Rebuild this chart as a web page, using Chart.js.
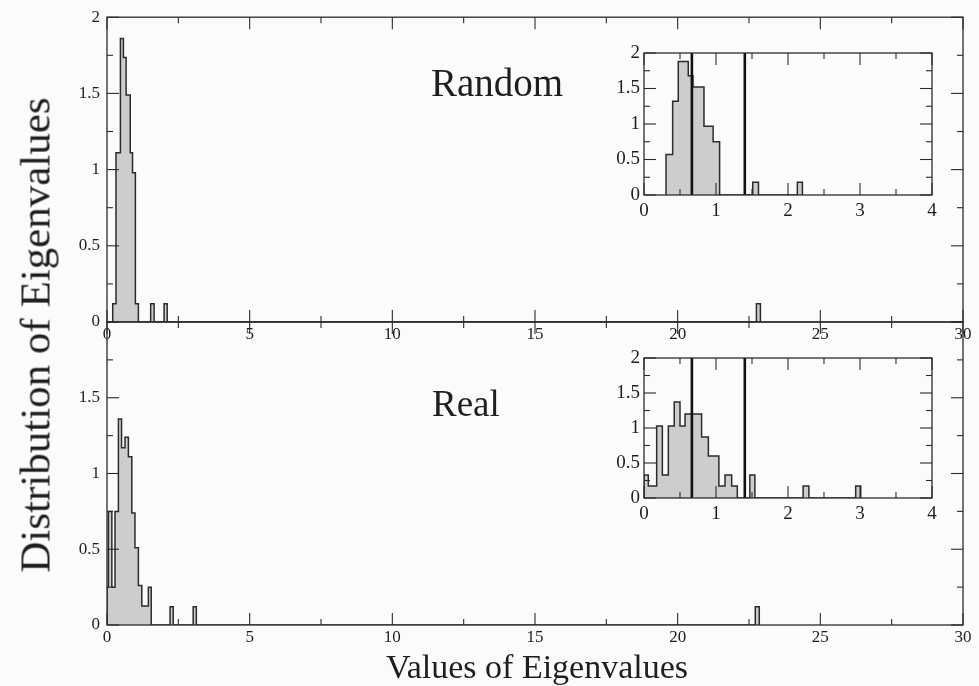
<!DOCTYPE html>
<html>
<head>
<meta charset="utf-8">
<script src="https://cdn.jsdelivr.net/npm/chart.js@4.4.1/dist/chart.umd.min.js"></script>
<style>
  html, body { margin: 0; padding: 0; background: #fbfbfb; }
  #wrap { position: relative; width: 979px; height: 686px; overflow: hidden;
          font-family: 'Liberation Serif', 'Times New Roman', serif; color: #1e1e1e; }
  #wrap canvas { position: absolute; left: 0; top: 0; }
  .lbl { position: absolute; white-space: nowrap; line-height: 1; }
</style>
</head>
<body>
<div id="wrap">
  <canvas id="mainTop" width="979" height="686"></canvas>
  <canvas id="mainBottom" width="979" height="686"></canvas>
  <canvas id="zoomTop" width="979" height="686"></canvas>
  <canvas id="zoomBottom" width="979" height="686"></canvas>
  <div class="lbl" id="tagRandom" style="left:431px;top:63px;font-size:39px;">Random</div>
  <div class="lbl" id="tagReal" style="left:432px;top:385px;font-size:37px;">Real</div>
  <div class="lbl" id="xTitle" style="left:537px;top:667px;font-size:34px;transform:translate(-50%,-50%);">Values of Eigenvalues</div>
  <div class="lbl" id="yTitle" style="left:35px;top:335px;font-size:43px;transform:translate(-50%,-50%) rotate(-90deg);">Distribution of Eigenvalues</div>
</div>
<script>
// Eigenvalue histograms: left bin edge and density of each bin (0 = empty gap up to the next edge)
const randomEdges   = [0.20, 0.315, 0.47, 0.575, 0.67, 0.815, 0.895, 0.995, 1.10, 1.53, 1.65, 2.00, 2.11, 22.76, 22.90];
const randomDensity = [0.12, 1.11, 1.86, 1.735, 1.49, 1.11, 0.98, 0.12, 0, 0.12, 0, 0.12, 0, 0.12, 0];

const randomZoomEdges   = [0.306, 0.398, 0.476, 0.615, 0.68, 0.833, 0.96, 1.05, 1.51, 1.59, 2.13, 2.20];
const randomZoomDensity = [0.57, 1.32, 1.88, 1.68, 1.52, 0.97, 0.75, 0, 0.18, 0, 0.18, 0];

const realEdges   = [0.00, 0.05, 0.17, 0.28, 0.40, 0.51, 0.63, 0.75, 0.87, 0.98, 1.10, 1.22, 1.45, 1.55, 2.21, 2.32, 3.02, 3.13, 22.72, 22.86];
const realDensity = [0.25, 0.75, 0.25, 0.75, 1.36, 1.17, 1.24, 1.11, 0.74, 0.51, 0.26, 0.125, 0.25, 0, 0.12, 0, 0.12, 0, 0.12, 0];

const realZoomEdges   = [0.00, 0.06, 0.176, 0.255, 0.338, 0.42, 0.50, 0.57, 0.80, 0.894, 1.04, 1.125, 1.218, 1.296, 1.47, 1.54, 2.21, 2.29, 2.94, 3.01];
const realZoomDensity = [0.33, 0.17, 1.03, 0.33, 1.03, 1.37, 1.03, 1.20, 0.87, 0.60, 0.17, 0.33, 0.17, 0, 0.33, 0, 0.17, 0, 0.17, 0];

// Theoretical bounds of the random-matrix spectrum (lambda_min, lambda_max)
const spectrumBounds = [0.665, 1.40];

// Tick labels
const mainXTicks = [0, 5, 10, 15, 20, 25, 30];
const zoomXTicks = [0, 1, 2, 3, 4];
const densityTicks = [0, 0.5, 1, 1.5, 2];

const INK = '#2b2b2b';
const FILL = '#cdcdcd';
const SERIF = "'Liberation Serif', 'Times New Roman', serif";

function histPoints(edges, dens) {
  const pts = [{ x: edges[0], y: 0 }];
  edges.forEach((e, i) => pts.push({ x: e, y: dens[i] }));
  return pts;
}

// Box frame with inward major/minor ticks on all four sides
const framePlugin = {
  id: 'frame',
  afterDatasetsDraw(chart, args, o) {
    const { ctx, chartArea: a, scales: { x, y } } = chart;
    ctx.save();
    ctx.strokeStyle = INK;
    ctx.lineWidth = 1.3;
    ctx.strokeRect(a.left, a.top, a.right - a.left, a.bottom - a.top);
    ctx.lineWidth = 1.1;
    const seg = (x1, y1, x2, y2) => { ctx.beginPath(); ctx.moveTo(x1, y1); ctx.lineTo(x2, y2); ctx.stroke(); };
    const xs = x.ticks.map(t => t.value), ys = y.ticks.map(t => t.value);
    const xMinor = xs.slice(1).map((v, i) => (v + xs[i]) / 2);
    const yMinor = ys.slice(1).map((v, i) => (v + ys[i]) / 2);
    const vx = (v, L) => { const p = x.getPixelForValue(v); seg(p, a.bottom, p, a.bottom - L); seg(p, a.top, p, a.top + L); };
    const vy = (v, L) => { const p = y.getPixelForValue(v); seg(a.left, p, a.left + L, p); seg(a.right, p, a.right - L, p); };
    xs.forEach(v => vx(v, o.major)); xMinor.forEach(v => vx(v, o.minor));
    ys.forEach(v => vy(v, o.major)); yMinor.forEach(v => vy(v, o.minor));
    ctx.restore();
  }
};

function panel(id, box, cfg) {
  const yW = 40, xH = 30;
  const datasets = [{
    data: histPoints(cfg.edges, cfg.dens),
    stepped: true,
    borderColor: INK,
    borderWidth: 1.5,
    backgroundColor: FILL,
    fill: 'origin',
    pointRadius: 0,
    order: 2
  }];
  (cfg.bounds || []).forEach(b => datasets.push({
    data: [{ x: b, y: 0 }, { x: b, y: 2 }],
    borderColor: '#111',
    borderWidth: 2.6,
    pointRadius: 0,
    fill: false,
    order: 1
  }));
  const tickFont = { family: SERIF, size: cfg.fontSize };
  return new Chart(document.getElementById(id), {
    type: 'line',
    data: { datasets },
    plugins: [framePlugin],
    options: {
      responsive: false,
      animation: false,
      devicePixelRatio: 1,
      events: [],
      layout: {
        autoPadding: false,
        padding: { left: box.left - yW, top: box.top, right: 979 - box.right, bottom: 686 - box.bottom - xH }
      },
      plugins: { legend: { display: false }, tooltip: { enabled: false }, frame: { major: cfg.major, minor: cfg.minor } },
      scales: {
        x: {
          type: 'linear', min: cfg.xTicks[0], max: cfg.xTicks[cfg.xTicks.length - 1],
          grid: { display: false, drawTicks: false }, border: { display: false },
          afterBuildTicks: s => { s.ticks = cfg.xTicks.map(v => ({ value: v })); },
          afterFit: s => { s.height = xH; },
          ticks: { font: tickFont, color: '#1e1e1e', padding: cfg.xPad, maxRotation: 0, autoSkip: false }
        },
        y: {
          type: 'linear', min: 0, max: 2,
          grid: { display: false, drawTicks: false }, border: { display: false },
          afterBuildTicks: s => { s.ticks = densityTicks.map(v => ({ value: v })); },
          afterFit: s => { s.width = yW; },
          ticks: {
            font: tickFont, color: '#1e1e1e', padding: cfg.yPad, autoSkip: false,
            callback: v => (cfg.hideTop && v === 2) ? '' : String(v)
          }
        }
      }
    }
  });
}

panel('mainTop', { left: 107, right: 963, top: 17, bottom: 322 },
  { edges: randomEdges, dens: randomDensity, xTicks: mainXTicks, fontSize: 17, major: 12, minor: 6, xPad: 2, yPad: 7 });
panel('mainBottom', { left: 107, right: 963, top: 322, bottom: 625 },
  { edges: realEdges, dens: realDensity, xTicks: mainXTicks, fontSize: 17, major: 12, minor: 6, xPad: 2, yPad: 7, hideTop: true });
panel('zoomTop', { left: 644, right: 932, top: 53, bottom: 195 },
  { edges: randomZoomEdges, dens: randomZoomDensity, bounds: spectrumBounds, xTicks: zoomXTicks, fontSize: 19, major: 12, minor: 6, xPad: 5, yPad: 4 });
panel('zoomBottom', { left: 644, right: 932, top: 358, bottom: 498 },
  { edges: realZoomEdges, dens: realZoomDensity, bounds: spectrumBounds, xTicks: zoomXTicks, fontSize: 19, major: 12, minor: 6, xPad: 5, yPad: 4 });
</script>
</body>
</html>
